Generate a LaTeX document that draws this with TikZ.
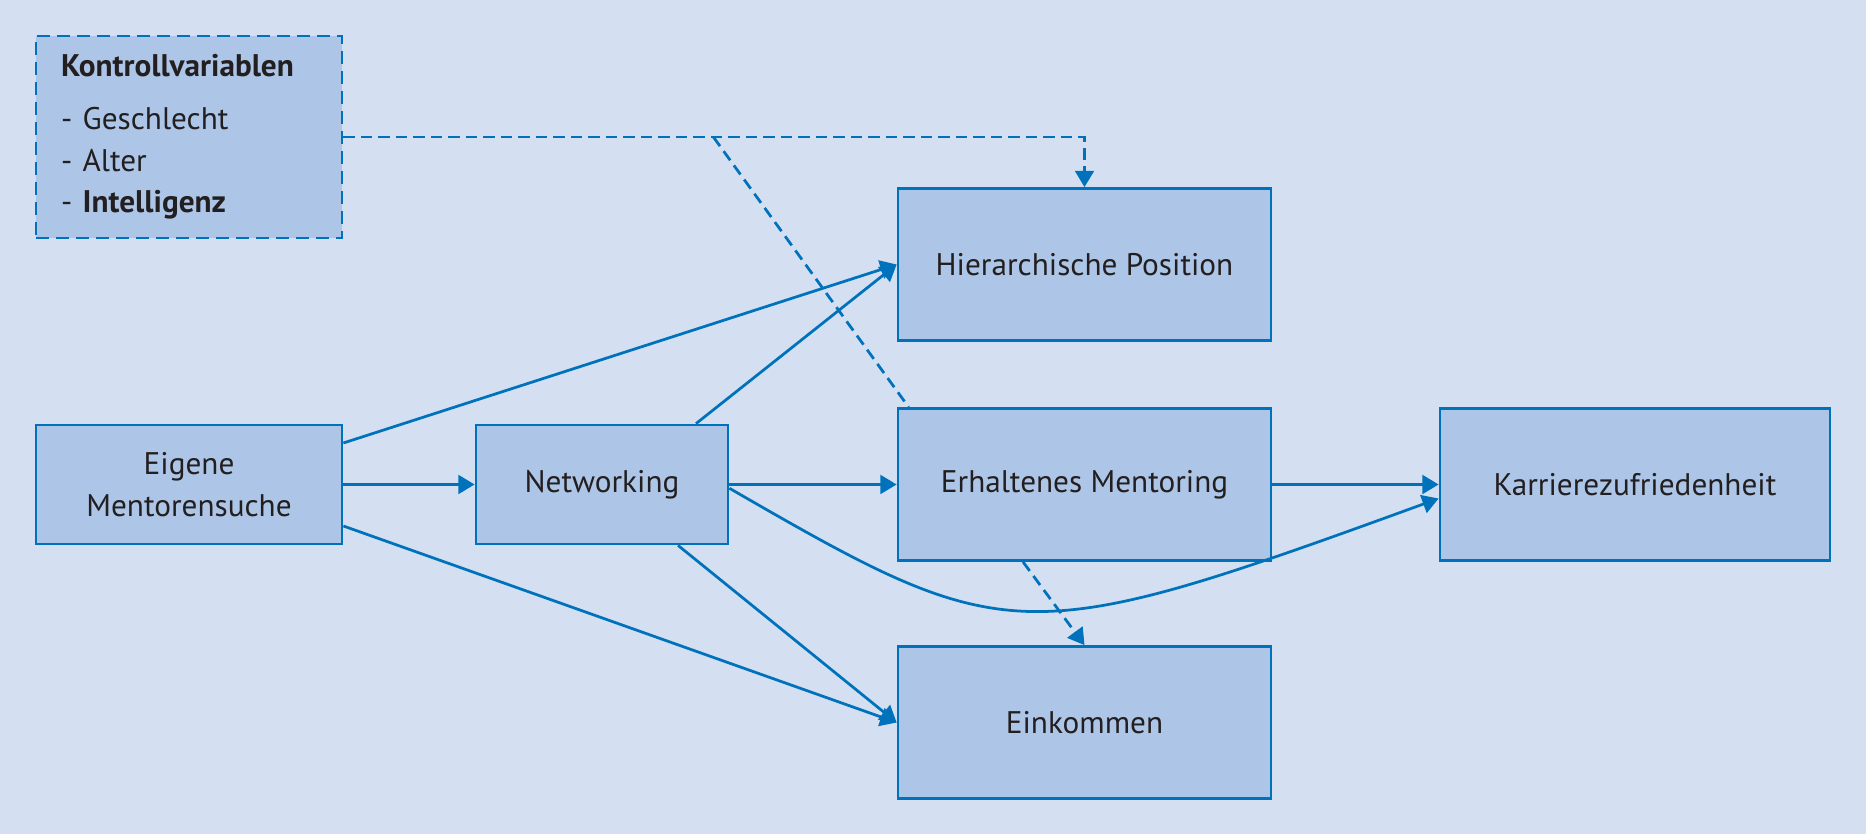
\documentclass[tikz,border=0pt]{standalone}
\usepackage{fontspec}
\setmainfont{PT Sans}
\usetikzlibrary{arrows.meta, positioning}

\definecolor{bgblue}{HTML}{D4E0F2}
\definecolor{boxblue}{HTML}{ADC6E8}
\definecolor{lineblue}{HTML}{0072BC}
\definecolor{textdark}{HTML}{231F20}

\begin{document}
\begin{tikzpicture}[
    font=\fontsize{12.5}{16.6}\selectfont,
    box/.style={
      draw=lineblue, fill=boxblue, line width=1.1pt,
      text=textdark, align=center,
      minimum width=149.2pt, minimum height=60.8pt,
      inner sep=0pt
    },
    smallbox/.style={box, minimum height=47.6pt},
    dashbox/.style={box, dash pattern=on 5.2pt off 2.8pt},
    arrow/.style={-{Triangle[length=6.5pt,width=7.5pt]}, line width=1.1pt, draw=lineblue},
    dasharrow/.style={arrow, dash pattern=on 4.5pt off 2.5pt},
    dashline/.style={line width=1.1pt, draw=lineblue, dash pattern=on 4.5pt off 2.5pt}
]

% --- Background ---
\fill[bgblue] (0,0) rectangle (746.4pt,-333.6pt);
\useasboundingbox (0,0) rectangle (746.4pt,-333.6pt);

% --- Middle row ---
\node[smallbox, minimum width=122.4pt] (mentor) at (75.6pt,-193.8pt) {Eigene\\Mentorensuche};
\node[smallbox, minimum width=100.8pt, right=52.5pt of mentor] (netw) {Networking};
\node[box, right=66.9pt of netw] (mentoring) {Erhaltenes Mentoring};
\node[box, minimum width=156pt, right=66.5pt of mentoring] (karriere) {Karrierezufriedenheit};

% --- Outcomes above and below ---
\node[box, above=26.1pt of mentoring] (position) {Hierarchische Position};
\node[box, below=33.3pt of mentoring] (einkommen) {Einkommen};

% --- Controls ---
\node[dashbox, align=left, text width=102.4pt, inner xsep=10pt,
      minimum width=122.4pt, minimum height=80.8pt,
      above=73.7pt of mentor] (kontroll) {\textbf{Kontrollvariablen}\\[4.6pt]
- Geschlecht\\
- Alter\\
- \textbf{Intelligenz}};

% --- Arrows ---
\draw[arrow] (mentor) -- (netw);
\draw[arrow] ([yshift=16.6pt]mentor.east) -- (position.west);
\draw[arrow] ([yshift=-16.6pt]mentor.east) -- (einkommen.west);
\draw[arrow] (netw) -- (mentoring);
\draw[arrow] ([xshift=37.6pt]netw.north) -- (position.west);
\draw[arrow] ([xshift=30.4pt]netw.south) -- (einkommen.west);
\draw[arrow] ([yshift=-1.5pt]netw.east) to[out=-30, in=200, out distance=128.8pt, in distance=178pt] ([yshift=-5.6pt]karriere.west);
\draw[arrow] (mentoring) -- (karriere);
\draw[dasharrow] ([xshift=-24.6pt]mentoring.south) -- (einkommen.north);
\draw[dasharrow] (kontroll.east) -| (position.north);
\coordinate (branch) at ([xshift=148pt]kontroll.east);
\draw[dashline] (branch) -- ([xshift=4.8pt]mentoring.north west);

\end{tikzpicture}
\end{document}
